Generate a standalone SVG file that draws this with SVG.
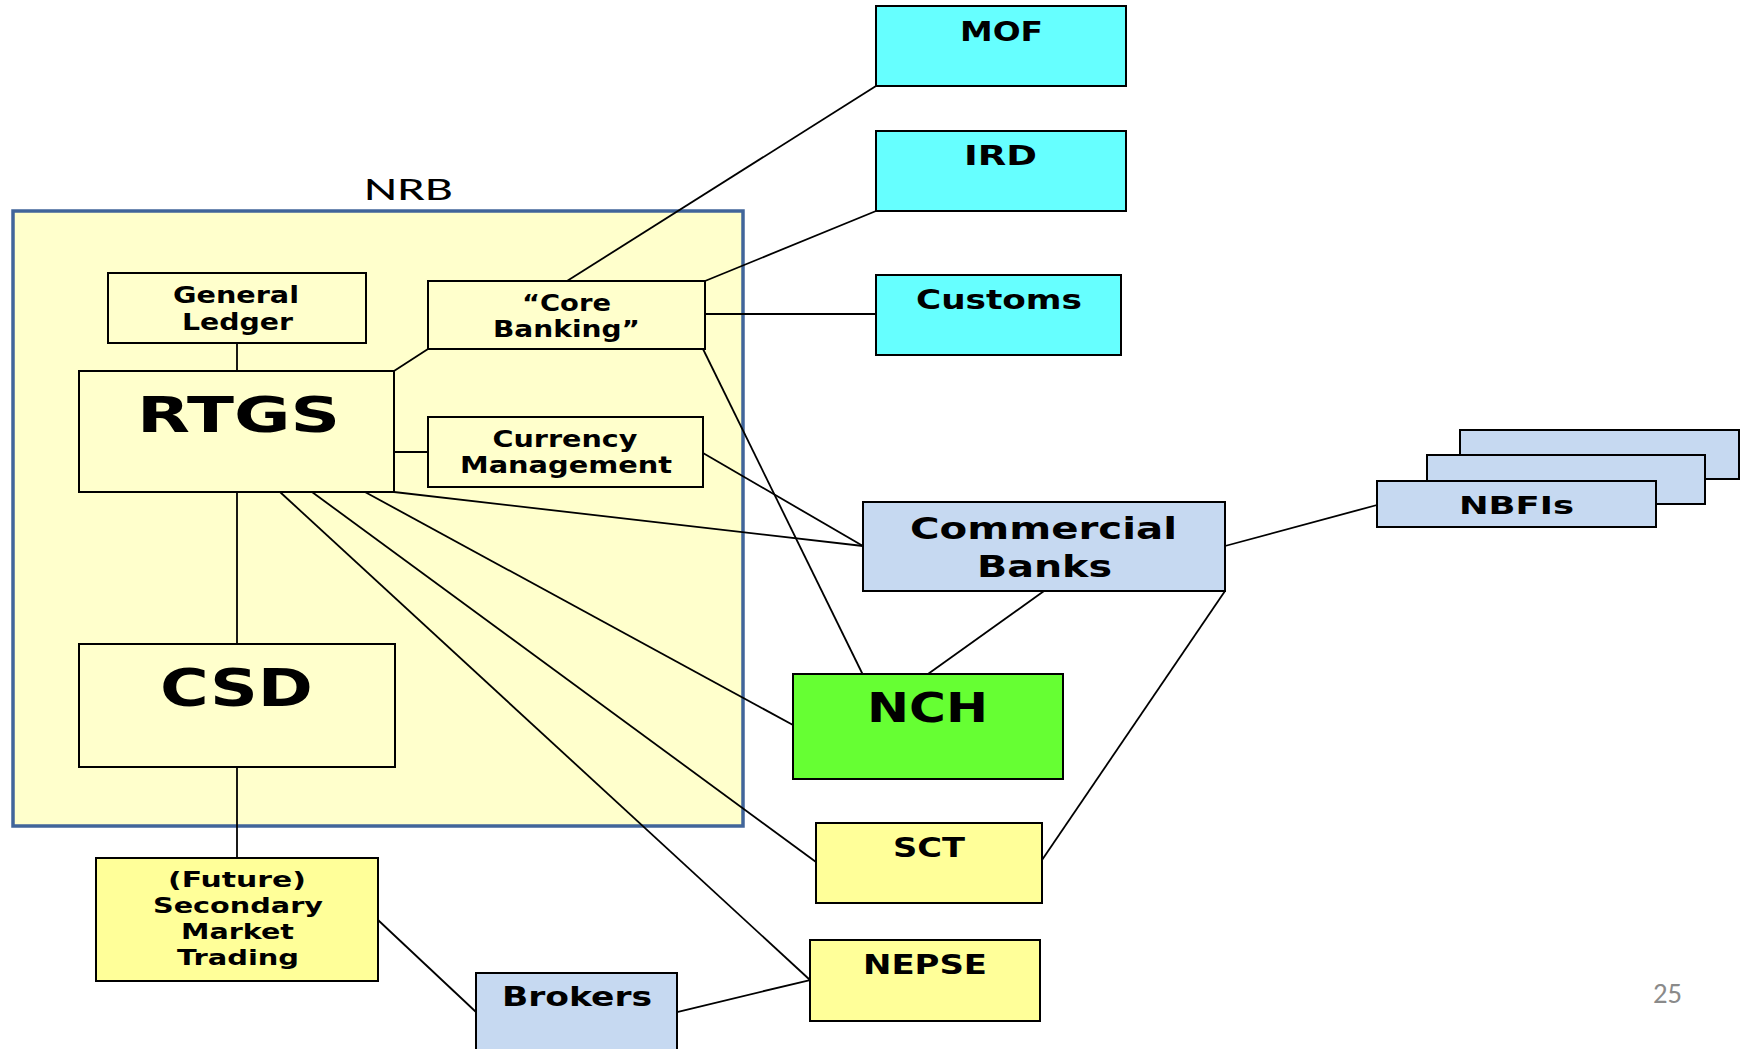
<svg xmlns="http://www.w3.org/2000/svg" width="1743" height="1049" viewBox="0 0 1743 1049">
<style>
.bx{stroke:#000;stroke-width:2}
.lt{fill:#FFFFCC}
.yl{fill:#FFFF99}
.cy{fill:#66FFFF}
.bl{fill:#C6D9F1}
.gr{fill:#66FF33}
.t{font-family:"DejaVu Sans","Verdana",sans-serif;font-weight:bold;fill:#000;text-anchor:middle}
.s22{font-size:22px}.s23{font-size:23px}.s25{font-size:25px}.s26{font-size:26px}.s31{font-size:31px}.s40{font-size:40px}.s50{font-size:50px}
#connectors line{stroke:#000;stroke-width:1.8;fill:none}
</style>
<rect width="1743" height="1049" fill="#fff"/>
<g id="nrb">
<rect x="13" y="211" width="730" height="615" fill="#FFFFCC" stroke="#41659A" stroke-width="3.5"/>
<text x="408.5" y="200" font-family="Carlito,'Liberation Sans',sans-serif" font-size="33" text-anchor="middle" textLength="89" lengthAdjust="spacingAndGlyphs" fill="#000">NRB</text>
</g>
<g id="connectors">
<line x1="237" y1="343" x2="237" y2="371"/>
<line x1="428" y1="349" x2="394" y2="371"/>
<line x1="394" y1="452" x2="428" y2="452"/>
<line x1="237" y1="492" x2="237" y2="644"/>
<line x1="237" y1="767" x2="237" y2="858"/>
<line x1="378" y1="920" x2="476" y2="1012"/>
<line x1="677" y1="1012" x2="810" y2="980"/>
<line x1="280" y1="492" x2="810" y2="980"/>
<line x1="312" y1="492" x2="816" y2="862"/>
<line x1="365" y1="492" x2="793" y2="725"/>
<line x1="394" y1="492" x2="863" y2="546"/>
<line x1="703" y1="453" x2="863" y2="546"/>
<line x1="703" y1="349" x2="863" y2="675"/>
<line x1="567" y1="281" x2="876" y2="86"/>
<line x1="705" y1="281" x2="876" y2="211"/>
<line x1="705" y1="314" x2="876" y2="314"/>
<line x1="1044" y1="591" x2="928" y2="674"/>
<line x1="1225" y1="591" x2="1042" y2="860"/>
<line x1="1225" y1="546" x2="1377" y2="505"/>
</g>
<g id="general-ledger">
<rect class="bx lt" x="108" y="273" width="258" height="70"/>
<text class="t s23" x="236" y="303" textLength="126" lengthAdjust="spacingAndGlyphs">General</text>
<text class="t s23" x="237.5" y="330" textLength="111" lengthAdjust="spacingAndGlyphs">Ledger</text>
</g>
<g id="core-banking">
<rect class="bx lt" x="428" y="281" width="277" height="68"/>
<text class="t s23" x="566.5" y="311" textLength="89" lengthAdjust="spacingAndGlyphs">“Core</text>
<text class="t s23" x="566.5" y="337" textLength="147" lengthAdjust="spacingAndGlyphs">Banking”</text>
</g>
<g id="rtgs">
<rect class="bx lt" x="79" y="371" width="315" height="121"/>
<text class="t s50" x="238.5" y="432" textLength="203" lengthAdjust="spacingAndGlyphs">RTGS</text>
</g>
<g id="currency-management">
<rect class="bx lt" x="428" y="417" width="275" height="70"/>
<text class="t s23" x="565" y="447" textLength="145" lengthAdjust="spacingAndGlyphs">Currency</text>
<text class="t s23" x="566" y="473" textLength="212" lengthAdjust="spacingAndGlyphs">Management</text>
</g>
<g id="csd">
<rect class="bx lt" x="79" y="644" width="316" height="123"/>
<text class="t" font-size="52" x="236.5" y="706" textLength="153" lengthAdjust="spacingAndGlyphs">CSD</text>
</g>
<g id="secondary-market">
<rect class="bx yl" x="96" y="858" width="282" height="123"/>
<text class="t s22" x="237" y="887" textLength="138" lengthAdjust="spacingAndGlyphs">(Future)</text>
<text class="t s22" x="238" y="913" textLength="170" lengthAdjust="spacingAndGlyphs">Secondary</text>
<text class="t s22" x="237.5" y="939" textLength="113" lengthAdjust="spacingAndGlyphs">Market</text>
<text class="t s22" x="238" y="965" textLength="122" lengthAdjust="spacingAndGlyphs">Trading</text>
</g>
<g id="brokers">
<rect class="bx bl" x="476" y="973" width="201" height="90"/>
<text class="t s26" x="577" y="1006" textLength="150" lengthAdjust="spacingAndGlyphs">Brokers</text>
</g>
<g id="mof">
<rect class="bx cy" x="876" y="6" width="250" height="80"/>
<text class="t s26" x="1001.5" y="41" textLength="83" lengthAdjust="spacingAndGlyphs">MOF</text>
</g>
<g id="ird">
<rect class="bx cy" x="876" y="131" width="250" height="80"/>
<text class="t s26" x="1000.5" y="165" textLength="73" lengthAdjust="spacingAndGlyphs">IRD</text>
</g>
<g id="customs">
<rect class="bx cy" x="876" y="275" width="245" height="80"/>
<text class="t s26" x="999" y="309" textLength="166" lengthAdjust="spacingAndGlyphs">Customs</text>
</g>
<g id="commercial-banks">
<rect class="bx bl" x="863" y="502" width="362" height="89"/>
<text class="t s31" x="1043.5" y="539" textLength="267" lengthAdjust="spacingAndGlyphs">Commercial</text>
<text class="t s31" x="1044.5" y="577" textLength="135" lengthAdjust="spacingAndGlyphs">Banks</text>
</g>
<g id="nbfis">
<rect class="bx bl" x="1460" y="430" width="279" height="49"/>
<rect class="bx bl" x="1427" y="455" width="278" height="49"/>
<rect class="bx bl" x="1377" y="481" width="279" height="46"/>
<text class="t s25" x="1516.5" y="514" textLength="115" lengthAdjust="spacingAndGlyphs">NBFIs</text>
</g>
<g id="nch">
<rect class="bx gr" x="793" y="674" width="270" height="105"/>
<text class="t s40" x="927.5" y="722" textLength="121" lengthAdjust="spacingAndGlyphs">NCH</text>
</g>
<g id="sct">
<rect class="bx yl" x="816" y="823" width="226" height="80"/>
<text class="t s26" x="929" y="857" textLength="72" lengthAdjust="spacingAndGlyphs">SCT</text>
</g>
<g id="nepse">
<rect class="bx yl" x="810" y="940" width="230" height="81"/>
<text class="t s26" x="925" y="974" textLength="124" lengthAdjust="spacingAndGlyphs">NEPSE</text>
</g>
<text x="1667.5" y="1003" font-family="Carlito,'Liberation Sans',sans-serif" font-size="29" text-anchor="middle" textLength="29" lengthAdjust="spacingAndGlyphs" fill="#8A8A8A">25</text>
</svg>
